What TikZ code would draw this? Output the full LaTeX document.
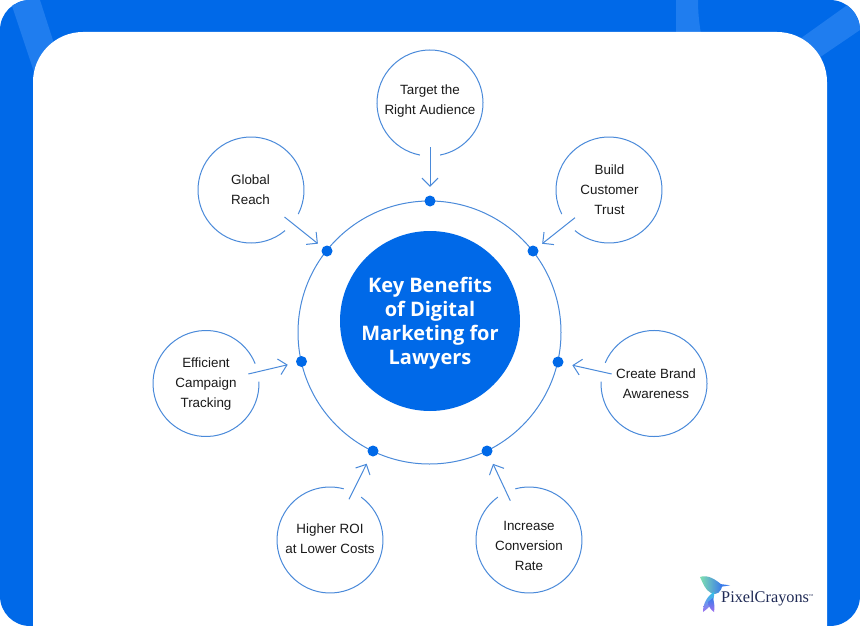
\documentclass[tikz,border=0pt]{standalone}
\usepackage{fontspec}
\setmainfont{Liberation Sans}
\newfontfamily\titlefont{Open Sans}
\newfontfamily\logofont{Liberation Serif}
\usetikzlibrary{arrows.meta}
\definecolor{brandblue}{HTML}{0069E8}
\definecolor{stripeblue}{HTML}{1F7DEF}
\definecolor{linkblue}{HTML}{4A8ADA}
\definecolor{inkdark}{HTML}{1A1A1A}
\definecolor{logoink}{HTML}{1F2A55}
\definecolor{birdgreen}{HTML}{7FE0B0}
\definecolor{birdcyan}{HTML}{2FC4E8}
\definecolor{birdblue}{HTML}{3A7BEA}
\definecolor{birdviolet}{HTML}{A070F0}
\tikzset{
  thinline/.style={draw=linkblue,line width=1pt},
  linkarrow/.style={thinline,-{Straight Barb[length=8pt,width=16pt,line width=1pt]}},
  label/.style={text=inkdark,font=\fontsize{13.4}{20}\selectfont,align=center,inner sep=0pt},
  ringdot/.style={circle,fill=brandblue,inner sep=0pt,minimum size=11pt},
}
\begin{document}
\begin{tikzpicture}[x=1pt,y=-1pt]
\useasboundingbox (0,0) rectangle (860,626);
\begin{scope}
  \clip[rounded corners=30pt] (0,0) rectangle (860,626);
  \fill[brandblue] (0,0) rectangle (860,626);
  \fill[stripeblue] (10,0) -- (40,0) -- (69,90) -- (40,90) -- cycle;
  \fill[stripeblue] (676,0) -- (698,0) .. controls (698,12) and (699,22) .. (701,34) -- (676,34) -- cycle;
  \fill[stripeblue] (790,46) -- (860,-4) -- (860,30) -- (810,64) -- cycle;
\end{scope}
\fill[white] (33,626) -- (33,82) arc[start angle=180,end angle=270,radius=50] -- (777,32) arc[start angle=270,end angle=360,radius=50] -- (827,626) -- cycle;
% ring and hub
\node[circle,draw=linkblue,line width=1pt,minimum size=263pt,inner sep=0pt] (ring) at (429.5,332.5) {};
\node[circle,fill=brandblue,minimum size=180pt,inner sep=0pt] (hub) at (430,321) {};
\node[text=white,align=center,inner sep=0pt,font=\titlefont\bfseries\fontsize{20}{24}\selectfont] (hubtext) at (430,323) {Key Benefits\\of Digital\\Marketing for\\Lawyers};
\node[ringdot] (d1) at (430,201) {};
\node[ringdot] (d2) at (533,251) {};
\node[ringdot] (d3) at (558,362) {};
\node[ringdot] (d4) at (487,451) {};
\node[ringdot] (d5) at (373,451) {};
\node[ringdot] (d6) at (301.5,361.5) {};
\node[ringdot] (d7) at (327,251) {};
% outer labels
\node[label] (target) at (430,101.5) {Target the\\Right Audience};
\node[label] (build) at (609.5,189.5) {Build\\Customer\\Trust};
\node[label] (brand) at (656,383.5) {Create Brand\\Awareness};
\node[label] (conv) at (529,545.5) {Increase\\Conversion\\Rate};
\node[label] (roi) at (330,538.5) {Higher ROI\\at Lower Costs};
\node[label] (track) at (206,384.5) {Efficient\\Campaign\\Tracking};
\node[label] (reach) at (250.5,189.5) {Global\\Reach};
% open circles, gap where the arrow leaves
\draw[thinline] (430,103) ++(101:53) arc[start angle=101,end angle=439,radius=53];
\draw[thinline] (609,190) ++(153:53) arc[start angle=153,end angle=490,radius=53];
\draw[thinline] (654,383.5) ++(203:53) arc[start angle=203,end angle=542,radius=53];
\draw[thinline] (529,540) ++(255:53) arc[start angle=255,end angle=594,radius=53];
\draw[thinline] (330,540) ++(306:53) arc[start angle=306,end angle=645,radius=53];
\draw[thinline] (206,383.5) ++(358:53) arc[start angle=358,end angle=698,radius=53];
\draw[thinline] (251,190) ++(50:53) arc[start angle=50,end angle=387,radius=53];
% arrows
\coordinate (a1) at (430,147);
\coordinate (a2) at (575,217.7);
\coordinate (a3) at (611.7,374);
\coordinate (a4) at (510.3,500.7);
\coordinate (a5) at (349,499.3);
\coordinate (a6) at (248.3,374);
\coordinate (a7) at (284.5,217);
\draw[linkarrow,shorten >=8.5pt] (a1) -- (d1);
\draw[linkarrow,shorten >=6pt] (a2) -- (d2);
\draw[linkarrow,shorten >=9pt] (a3) -- (d3);
\draw[linkarrow,shorten >=8.5pt] (a4) -- (d4);
\draw[linkarrow,shorten >=8.5pt] (a5) -- (d5);
\draw[linkarrow,shorten >=8.5pt] (a6) -- (d6);
\draw[linkarrow,shorten >=6pt] (a7) -- (d7);
% logo
\shade[left color=birdgreen,right color=birdblue] (700,577) .. controls (708,574) and (716,580) .. (722,585) .. controls (722,592) and (716,596) .. (711,593) .. controls (705,590) and (703,583) .. (700,577) -- cycle;
\shade[top color=birdcyan,bottom color=birdviolet] (714,592) .. controls (707,596) and (703,604) .. (703,612) .. controls (709,608) and (715,602) .. (714,592) -- cycle;
\shade[top color=birdblue,bottom color=birdviolet] (713,598) .. controls (714,602) and (715,607) .. (714,612) .. controls (711,610) and (708,606) .. (708,602) -- cycle;
\fill[birdblue] (720,584) -- (730,585.3) -- (720,587) -- cycle;
\node[anchor=west,inner sep=0pt,text=logoink,font=\logofont\fontsize{16.3}{17}\selectfont] (logo) at (721,598.5) {PixelCrayons};
\node[anchor=west,inner sep=0pt,text=logoink,font=\logofont\fontsize{3}{3}\selectfont] (tm) at (808.7,596) {TM};
\end{tikzpicture}
\end{document}
